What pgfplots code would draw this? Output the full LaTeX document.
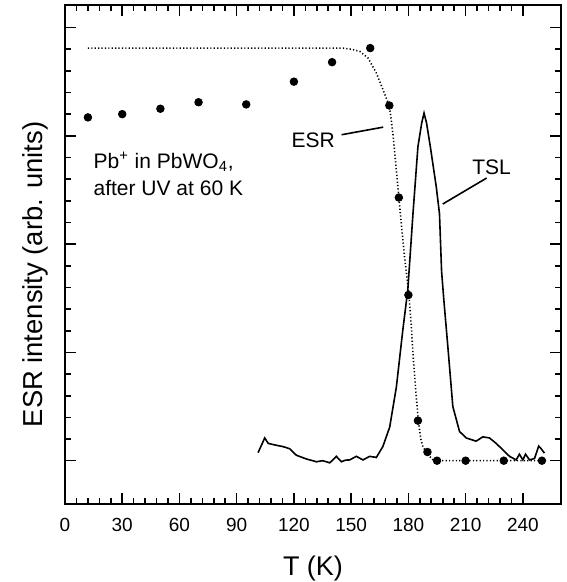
\documentclass[border=0pt]{standalone}
\usepackage{fontspec}
\setmainfont{Liberation Sans}
\usepackage{pgfplots}
\pgfplotsset{compat=1.18}
\usetikzlibrary{calc}
\begin{document}
\begin{tikzpicture}
\begin{axis}[
  scale only axis,
  width=248pt, height=249.5pt,
  xmin=0, xmax=260, ymin=-0.4, ymax=4.208,
  xtick={0,30,...,240}, minor x tick num=4,
  ytick={0,1,2,3,4}, minor y tick num=4,
  yticklabels={},
  tick align=inside,
  major tick length=5.3pt, minor tick length=2.9pt,
  every tick/.style={black, line width=0.8pt},
  axis line style={line width=1pt},
  /pgf/number format/assume math mode=true,
  xticklabel style={font=\fontsize{9.5}{11}\selectfont, anchor=base, yshift=-13.85pt},
  xlabel={T (K)},
  ylabel={ESR intensity (arb. units)},
  xlabel style={font=\fontsize{13.5}{16}\selectfont, at={(axis description cs:0.5,-0.1423)}, anchor=base},
  ylabel style={font=\fontsize{13.7}{16}\selectfont, at={(axis description cs:-0.0595,0.46)}, anchor=center},
  clip=false,
]
% ESR fit (dotted)
\addplot[black, line width=0.8pt, dash pattern=on 0.6pt off 1.1pt] table {
x y
12 3.81
140 3.81
145.5 3.81
150 3.80
154.5 3.78
158.8 3.72
163.2 3.58
166.6 3.43
169 3.32
170.5 3.22
172 3.00
173.7 2.68
175 2.43
176.5 2.15
178 1.88
179.2 1.70
180.3 1.53
181.5 1.25
182.5 0.96
184 0.62
185.2 0.37
186.5 0.20
187.6 0.13
190 0.06
192.8 0.01
195 0
210 0
230 0
250 0
};
% ESR data points
\addplot[only marks, mark=*, mark size=1.9pt, black] table {
x y
12 3.17
30 3.20
50 3.25
70 3.31
95 3.29
120 3.50
140 3.68
160 3.81
170 3.28
175 2.43
180 1.53
185 0.37
190 0.08
195 0
210 0
230 0
250 0
};
% TSL
\addplot[black, line width=0.8pt] table {
x y
101.2 0.074
104.7 0.21
106.5 0.16
110 0.145
114.3 0.13
117.8 0.11
121.3 0.05
126.5 0.016
131.8 -0.01
135 0.0
137 -0.01
138.7 -0.02
140 0.0
142.2 0.04
144.9 -0.01
147 0.005
149.2 0.007
152.7 0.04
156.2 0.007
159.7 0.04
163.2 0.03
166.6 0.13
170.2 0.31
173.7 0.68
177.1 1.21
179.7 1.58
182.4 2.28
185 2.90
187 3.12
188.2 3.21
189.5 3.12
191.5 2.90
194.6 2.53
196.3 2.28
197.4 1.75
198.6 1.48
200.7 1.05
203.3 0.50
206.8 0.27
210.3 0.21
215.5 0.18
219 0.22
222.5 0.21
226 0.16
229.5 0.10
233 0.04
236.5 0.007
238.2 0.06
240 0.007
241.4 0.06
243.5 0.007
246.1 0.02
248.3 0.135
249.6 0.11
251.3 0.07
};
% annotation leader lines
\addplot[black, line width=0.8pt] coordinates {(145,3.01) (166.8,3.08)};
\addplot[black, line width=0.8pt] coordinates {(198,2.37) (221,2.61)};
\node[font=\fontsize{10.5}{12}\selectfont, anchor=center] at (axis cs:130.1,2.96) {ESR};
\node[font=\fontsize{10.5}{12}\selectfont, anchor=center] at (axis cs:223.6,2.71) {TSL};
\node[font=\fontsize{10.5}{12}\selectfont, anchor=base west, inner sep=0pt] at (axis cs:14.8,2.70) {Pb\textsuperscript{+} in PbWO\textsubscript{4},};
\node[font=\fontsize{10.5}{12}\selectfont, anchor=base west, inner sep=0pt] at (axis cs:14.8,2.445) {after UV at 60 K};
\end{axis}
\pgfresetboundingbox
\path[use as bounding box] ($(current axis.south west)+(-32.5pt,-39pt)$) rectangle ($(current axis.north east)+(2.5pt,2.5pt)$);
\end{tikzpicture}
\end{document}
